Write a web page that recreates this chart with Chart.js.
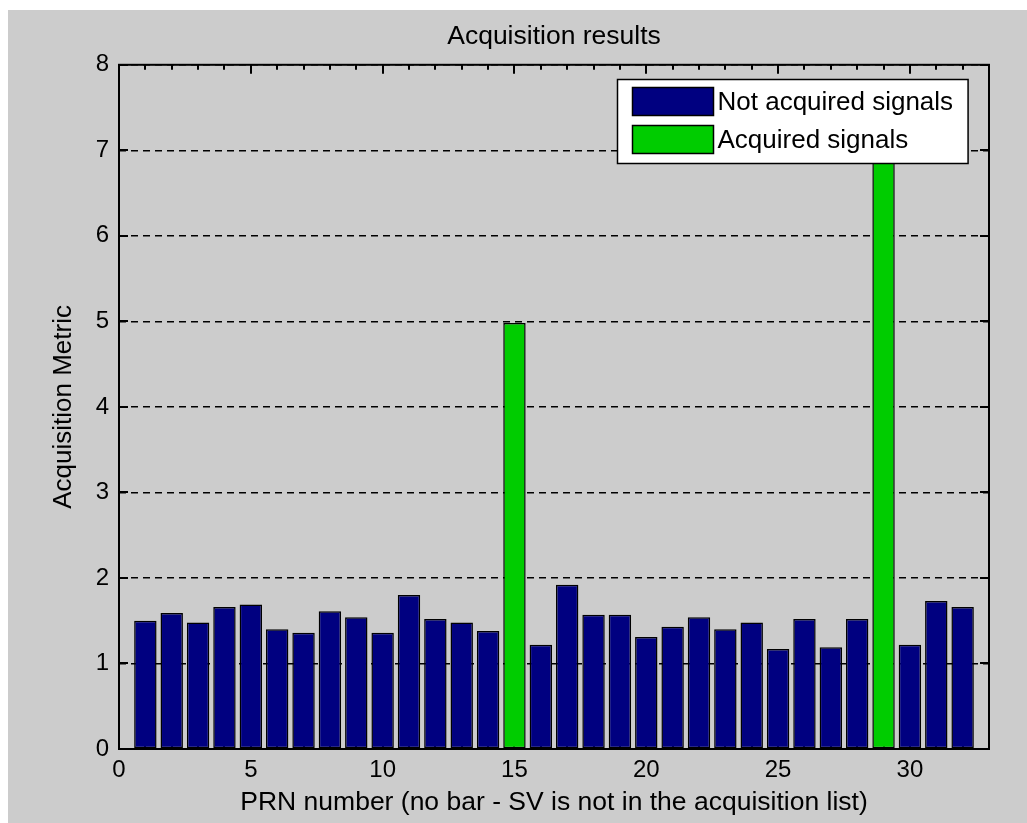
<!DOCTYPE html>
<html>
<head>
<meta charset="utf-8">
<title>Acquisition results</title>
<script src="https://cdn.jsdelivr.net/npm/chart.js@4/dist/chart.umd.min.js"></script>
<style>
  html, body { margin: 0; padding: 0; background: #ffffff; }
  #wrap {
    position: absolute; left: 8px; top: 10px;
    width: 1019px; height: 813px;
    background: #cccccc;
  }
</style>
</head>
<body>
<div id="wrap"><canvas id="acqChart"></canvas></div>
<script>
'use strict';

// PRN numbers of the satellites searched
var prnNumbers = [1, 2, 3, 4, 5, 6, 7, 8, 9, 10, 11, 12, 13, 14, 15, 16,
  17, 18, 19, 20, 21, 22, 23, 24, 25, 26, 27, 28, 29, 30, 31, 32];

// acquisition metric (peak ratio) per PRN
var peakMetric = [1.50, 1.59, 1.48, 1.66, 1.69, 1.40, 1.36, 1.61, 1.54, 1.36,
  1.80, 1.52, 1.48, 1.38, 4.98, 1.22, 1.92, 1.57, 1.57, 1.31,
  1.43, 1.54, 1.40, 1.48, 1.17, 1.52, 1.19, 1.52, 7.50, 1.22,
  1.73, 1.66];

// PRNs that were acquired (green bars)
var acquiredPRN = [15, 29];

// tick labels
var xTickLabels = [0, 5, 10, 15, 20, 25, 30];
var yTickLabels = [0, 1, 2, 3, 4, 5, 6, 7, 8];

var FONT = "'Liberation Sans', Arial, Helvetica, sans-serif";

// split the metric into the two series
var notAcquired = [];
var acquired = [];
for (var i = 0; i < prnNumbers.length; i++) {
  if (acquiredPRN.indexOf(prnNumbers[i]) >= 0) {
    acquired.push({x: prnNumbers[i], y: peakMetric[i]});
  } else {
    notAcquired.push({x: prnNumbers[i], y: peakMetric[i]});
  }
}

// matlab style ticks inside the box (under the bars)
var innerTicks = {
  id: 'innerTicks',
  beforeDatasetsDraw: function(chart) {
    var ctx = chart.ctx;
    var a = chart.chartArea;
    var xs = chart.scales.x;
    var ys = chart.scales.y;
    ctx.save();
    ctx.strokeStyle = '#000';
    ctx.lineWidth = 2;
    ctx.beginPath();
    for (var v = Math.ceil(xs.min); v <= xs.max; v++) {
      var px = Math.round(xs.getPixelForValue(v));
      var len = (v % 5 === 0) ? 9 : 5;
      ctx.moveTo(px, a.top); ctx.lineTo(px, a.top + len);
      ctx.moveTo(px, a.bottom); ctx.lineTo(px, a.bottom - len);
    }
    for (var j = 0; j < yTickLabels.length; j++) {
      var py = Math.round(ys.getPixelForValue(yTickLabels[j]));
      ctx.moveTo(a.left, py); ctx.lineTo(a.left + 9, py);
      ctx.moveTo(a.right, py); ctx.lineTo(a.right - 9, py);
    }
    ctx.stroke();
    ctx.restore();
  }
};

// axes box + legend drawn inside the plot
var boxAndLegend = {
  id: 'boxAndLegend',
  afterDatasetsDraw: function(chart) {
    var ctx = chart.ctx;
    var a = chart.chartArea;
    ctx.save();
    ctx.strokeStyle = '#000';
    ctx.lineWidth = 2;
    ctx.strokeRect(a.left, a.top, a.right - a.left, a.bottom - a.top);

    // legend
    ctx.font = '26px ' + FONT;
    var sets = chart.data.datasets;
    var maxW = 0;
    for (var k = 0; k < sets.length; k++) {
      maxW = Math.max(maxW, ctx.measureText(sets[k].label).width);
    }
    var boxW = 100 + maxW + 15;
    var boxH = 84;
    var bx = Math.round(a.right - 21 - boxW) + 0.5;
    var by = Math.round(a.top + 14) + 0.5;
    ctx.fillStyle = '#fff';
    ctx.fillRect(bx, by, boxW, boxH);
    ctx.lineWidth = 1.5;
    ctx.strokeRect(bx, by, boxW, boxH);
    for (var m = 0; m < sets.length; m++) {
      var ry = by + 8 + m * 38;
      ctx.fillStyle = sets[m].backgroundColor;
      ctx.fillRect(bx + 15, ry, 81, 28);
      ctx.strokeRect(bx + 15, ry, 81, 28);
      ctx.fillStyle = '#000';
      ctx.textAlign = 'left';
      ctx.textBaseline = 'middle';
      ctx.fillText(sets[m].label, bx + 100, ry + 15);
    }
    ctx.restore();
  }
};

var ctx = document.getElementById('acqChart').getContext('2d');

var acqChart = new Chart(ctx, {
  type: 'bar',
  data: {
    datasets: [{
      label: 'Not acquired signals',
      data: notAcquired,
      backgroundColor: '#000080',
      borderColor: '#000',
      borderWidth: 1.5,
      borderSkipped: false
    }, {
      label: 'Acquired signals',
      data: acquired,
      backgroundColor: '#00cc00',
      borderColor: '#000',
      borderWidth: 1.5,
      borderSkipped: false
    }]
  },
  options: {
    responsive: true,
    maintainAspectRatio: false,
    animation: false,
    events: [],
    grouped: false,
    barPercentage: 0.85,
    categoryPercentage: 1,
    layout: {padding: {left: 0, right: 38, top: 0, bottom: 0}},
    plugins: {
      legend: {display: false},
      tooltip: {enabled: false},
      title: {
        display: true,
        fullSize: false,
        text: 'Acquisition results',
        color: '#000',
        font: {family: FONT, size: 26.5, weight: 'normal'},
        padding: {top: 11, bottom: 12}
      }
    },
    scales: {
      x: {
        type: 'linear',
        min: 0,
        max: 33,
        offset: false,
        afterBuildTicks: function(scale) {
          scale.ticks = xTickLabels.map(function(v) { return {value: v}; });
        },
        afterFit: function(scale) { scale.height = 74; },
        grid: {display: false, drawTicks: false, offset: false},
        border: {display: false},
        ticks: {
          color: '#000',
          padding: 7,
          maxRotation: 0,
          autoSkip: false,
          font: {family: FONT, size: 24}
        },
        title: {
          display: true,
          text: 'PRN number (no bar - SV is not in the acquisition list)',
          color: '#000',
          font: {family: FONT, size: 26.5},
          padding: {top: 0, bottom: 4}
        }
      },
      y: {
        min: 0,
        max: 8,
        afterBuildTicks: function(scale) {
          scale.ticks = yTickLabels.map(function(v) { return {value: v}; });
        },
        afterFit: function(scale) { scale.width = 111; },
        grid: {color: '#000', lineWidth: 1.5, drawTicks: false},
        border: {display: false, dash: [7, 5]},
        ticks: {
          color: '#000',
          padding: 10,
          font: {family: FONT, size: 24}
        },
        title: {
          display: true,
          text: 'Acquisition Metric',
          color: '#000',
          font: {family: FONT, size: 26},
          padding: {top: 40, bottom: 0}
        }
      }
    }
  },
  plugins: [innerTicks, boxAndLegend]
});
</script>
</body>
</html>
